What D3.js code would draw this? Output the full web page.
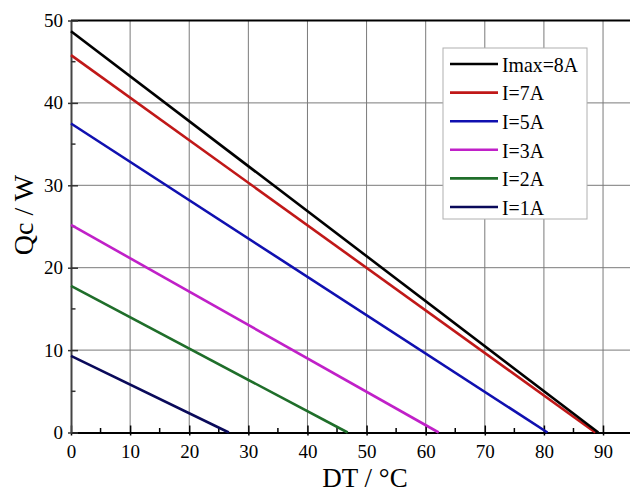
<!DOCTYPE html>
<html>
<head>
<meta charset="utf-8">
<script src="https://cdn.jsdelivr.net/npm/d3@7"></script>
<style>
  html, body { margin: 0; padding: 0; background: #fff; }
  svg { display: block; }
  text { font-family: "Liberation Serif", "Times New Roman", serif; fill: #000; }
</style>
</head>
<body>
<svg id="chart" width="630" height="494"></svg>
<script>
// ---- data ----
const seriesLabels = ["Imax=8A", "I=7A", "I=5A", "I=3A", "I=2A", "I=1A"];
const qcMax = [48.7, 45.8, 37.5, 25.2, 17.8, 9.3];   // Qc at DT = 0
const dtMax = [89.2, 88.7, 80.6, 62.2, 46.8, 26.7];  // DT at Qc = 0
const seriesColors = ["#000000", "#c01818", "#1010b0", "#c020c8", "#1f6e2a", "#0a0a5a"];
const xTicks = [0, 10, 20, 30, 40, 50, 60, 70, 80, 90];
const yTicks = [0, 10, 20, 30, 40, 50];
const xMinor = [5, 15, 25, 35, 45, 55, 65, 75, 85];
const yMinor = [5, 15, 25, 35, 45];

const svg = d3.select("#chart");
const pLeft = 71, pRight = 632, pTop = 20.5, pBottom = 432.5;

const x = d3.scaleLinear().domain([0, 94.9]).range([pLeft, pRight]);
const y = d3.scaleLinear().domain([0, 50]).range([pBottom, pTop]);

// grid
svg.append("g").selectAll("line").data(xTicks.filter(d => d > 0)).join("line")
  .attr("x1", d => x(d)).attr("x2", d => x(d))
  .attr("y1", pTop).attr("y2", pBottom)
  .attr("stroke", "#7a7a7a").attr("stroke-width", 1);
svg.append("g").selectAll("line").data(yTicks.filter(d => d > 0 && d < 50)).join("line")
  .attr("x1", pLeft).attr("x2", pRight)
  .attr("y1", d => y(d)).attr("y2", d => y(d))
  .attr("stroke", "#7a7a7a").attr("stroke-width", 1);

// top border
svg.append("line").attr("x1", pLeft).attr("x2", pRight)
  .attr("y1", y(50)).attr("y2", y(50))
  .attr("stroke", "#000").attr("stroke-width", 2);

// axes via d3
const xAxis = d3.axisBottom(x).tickValues(xTicks).tickFormat(d3.format("d")).tickSizeInner(3).tickSizeOuter(0).tickPadding(9);
const gx = svg.append("g").attr("transform", `translate(0,${pBottom})`).call(xAxis);
gx.select(".domain").attr("stroke", "#000").attr("stroke-width", 2);
gx.selectAll(".tick line").attr("stroke", "#000").attr("stroke-width", 1.5).attr("y1", -7);
gx.selectAll(".tick text").attr("font-size", 19).attr("font-family", "Liberation Serif");

const yAxis = d3.axisLeft(y).tickValues(yTicks).tickFormat(d3.format("d")).tickSizeInner(3).tickSizeOuter(0).tickPadding(5);
const gy = svg.append("g").attr("transform", `translate(${pLeft},0)`).call(yAxis);
gy.select(".domain").attr("stroke", "#444").attr("stroke-width", 2);
gy.selectAll(".tick line").attr("stroke", "#333").attr("stroke-width", 1.5).attr("x2", 7).attr("x1", -3);
gy.selectAll(".tick text").attr("font-size", 19).attr("font-family", "Liberation Serif");

// minor ticks (inside)
svg.append("g").selectAll("line").data(xMinor).join("line")
  .attr("x1", d => x(d)).attr("x2", d => x(d))
  .attr("y1", pBottom).attr("y2", pBottom - 4.5)
  .attr("stroke", "#000").attr("stroke-width", 1.5);
svg.append("g").selectAll("line").data(yMinor).join("line")
  .attr("x1", pLeft).attr("x2", pLeft + 4.5)
  .attr("y1", d => y(d)).attr("y2", d => y(d))
  .attr("stroke", "#333").attr("stroke-width", 1.5);

// series lines
const series = seriesLabels.map((name, i) => ({
  name, color: seriesColors[i],
  pts: [[0, qcMax[i]], [dtMax[i], 0]]
}));
const line = d3.line().x(d => x(d[0])).y(d => y(d[1]));
svg.append("g").selectAll("path").data(series.slice().reverse()).join("path")
  .attr("d", d => line(d.pts))
  .attr("fill", "none")
  .attr("stroke", d => d.color)
  .attr("stroke-width", 2.6);

// axis titles
svg.append("text")
  .attr("x", 365).attr("y", 487)
  .attr("text-anchor", "middle")
  .attr("font-size", 27)
  .text("DT / °C");
svg.append("text")
  .attr("transform", "translate(33,215) rotate(-90)")
  .attr("text-anchor", "middle")
  .attr("font-size", 28)
  .text("Qc / W");

// legend
const lg = svg.append("g");
lg.append("rect").attr("x", 443).attr("y", 48).attr("width", 144).attr("height", 171)
  .attr("fill", "#fff").attr("stroke", "#b0b0b0").attr("stroke-width", 1);
const items = lg.selectAll("g").data(series).join("g")
  .attr("transform", (d, i) => `translate(0,${64 + i * 28.6})`);
items.append("line").attr("x1", 450).attr("x2", 498).attr("y1", 0).attr("y2", 0)
  .attr("stroke", d => d.color).attr("stroke-width", 2.6);
items.append("text")
  .attr("transform", "translate(502,0) scale(0.9,1)")
  .attr("dy", "0.35em")
  .attr("font-size", 22)
  .text(d => d.name);
</script>
</body>
</html>
